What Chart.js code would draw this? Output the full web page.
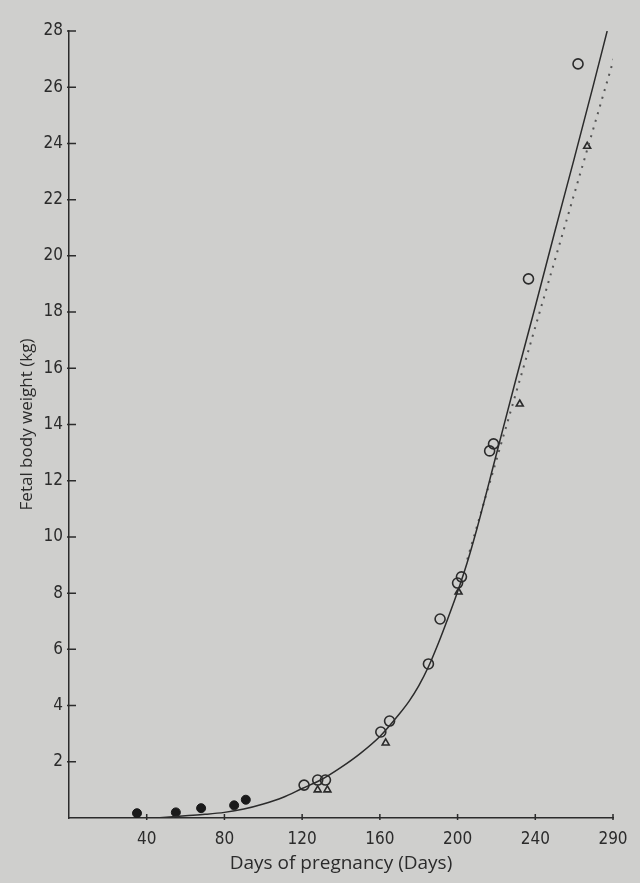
<!DOCTYPE html>
<html>
<head>
<meta charset="utf-8">
<script src="https://cdn.jsdelivr.net/npm/chart.js@4.4.1/dist/chart.umd.min.js"></script>
<style>
  html, body { margin: 0; padding: 0; background: #cfcfcd; }
  #wrap { width: 640px; height: 883px; }
</style>
</head>
<body>
<div id="wrap"><canvas id="chart" width="640" height="883"></canvas></div>
<script>
// Data
const earlyDays = [35, 55, 68, 85, 91];
const earlyWeights = [0.17, 0.2, 0.35, 0.45, 0.65];

const circleDays = [121, 128, 132, 160.5, 165, 185, 191, 200, 202, 216.5, 218.5, 236.5, 262];
const circleWeights = [1.17, 1.35, 1.35, 3.06, 3.45, 5.48, 7.08, 8.36, 8.58, 13.06, 13.31, 19.18, 26.83];

const triangleDays = [128, 133, 163, 200.5, 232, 266.7];
const triangleWeights = [1.0, 1.0, 2.67, 8.04, 14.73, 23.9];

const curveDays = [45, 60, 70, 80, 90, 100, 110, 120, 130, 140, 150, 160, 170, 175, 180, 185, 190, 195, 200, 205, 210, 220, 230, 240, 250, 260, 270, 277];
const curveWeights = [0, 0.08, 0.13, 0.2, 0.32, 0.5, 0.73, 1.05, 1.37, 1.8, 2.3, 2.9, 3.7, 4.15, 4.7, 5.38, 6.2, 7.1, 8.05, 9.1, 10.3, 12.95, 15.6, 18.2, 20.85, 23.45, 26.1, 28.0];

const dottedDays = [205, 281];
const dottedWeights = [9.2, 27.15];

const xTickValues = [40, 80, 120, 160, 200, 240, 280];
const xTickLabels = ['40', '80', '120', '160', '200', '240', '290'];
const yTickValues = [2, 4, 6, 8, 10, 12, 14, 16, 18, 20, 22, 24, 26, 28];

function pts(xs, ys) {
    return xs.map(function (x, i) { return { x: x, y: ys[i] }; });
}

const ink = '#2b2b2b';
const titleFont = "'Open Sans', sans-serif";
const tickFont = "'Liberation Sans Narrow', 'DejaVu Sans Condensed', sans-serif";

// paper background
const paper = {
    id: 'paper',
    beforeDraw: function (chart) {
        const ctx = chart.ctx;
        ctx.save();
        ctx.fillStyle = '#cfcfcd';
        ctx.fillRect(0, 0, chart.width, chart.height);
        ctx.restore();
    }
};

// small tick marks crossing the axes
const axisTicks = {
    id: 'axisTicks',
    afterDraw: function (chart) {
        const ctx = chart.ctx;
        const xs = chart.scales.x, ys = chart.scales.y;
        const x0 = xs.getPixelForValue(0), y0 = ys.getPixelForValue(0);
        ctx.save();
        ctx.strokeStyle = ink;
        ctx.lineWidth = 1.5;
        ctx.beginPath();
        yTickValues.forEach(function (v) {
            const py = ys.getPixelForValue(v);
            ctx.moveTo(x0 - 2, py);
            ctx.lineTo(x0 + 7, py);
        });
        xTickValues.forEach(function (v) {
            const px = xs.getPixelForValue(v);
            ctx.moveTo(px, y0 - 4);
            ctx.lineTo(px, y0 + 2);
        });
        ctx.stroke();
        ctx.restore();
    }
};

new Chart(document.getElementById('chart').getContext('2d'), {
    type: 'scatter',
    data: {
        datasets: [
            {
                data: pts(curveDays, curveWeights),
                showLine: true,
                borderColor: ink,
                borderWidth: 1.5,
                pointRadius: 0,
                cubicInterpolationMode: 'monotone'
            },
            {
                data: pts(dottedDays, dottedWeights),
                showLine: true,
                borderColor: '#555',
                borderWidth: 2,
                borderDash: [2, 6],
                pointRadius: 0
            },
            {
                data: pts(earlyDays, earlyWeights),
                pointStyle: 'circle',
                pointRadius: 4.5,
                backgroundColor: '#1a1a1a',
                borderColor: '#1a1a1a',
                borderWidth: 1
            },
            {
                data: pts(circleDays, circleWeights),
                pointStyle: 'circle',
                pointRadius: 5,
                backgroundColor: 'rgba(0,0,0,0)',
                borderColor: ink,
                borderWidth: 1.6
            },
            {
                data: pts(triangleDays, triangleWeights),
                pointStyle: 'triangle',
                pointRadius: 4,
                backgroundColor: 'rgba(0,0,0,0)',
                borderColor: ink,
                borderWidth: 1.6
            }
        ]
    },
    options: {
        responsive: false,
        animation: false,
        layout: { padding: { top: 31, right: 27, bottom: 8, left: 0 } },
        plugins: {
            legend: { display: false },
            tooltip: { enabled: false }
        },
        scales: {
            x: {
                type: 'linear',
                min: 0,
                max: 280,
                afterBuildTicks: function (scale) {
                    scale.ticks = xTickValues.map(function (v) { return { value: v }; });
                },
                afterFit: function (scale) { scale.height = 57; },
                grid: { display: false, drawTicks: false },
                border: { display: true, color: ink, width: 1.5 },
                ticks: {
                    color: ink,
                    padding: 11,
                    maxRotation: 0,
                    font: { family: tickFont, size: 17 },
                    callback: function (value) {
                        const i = xTickValues.indexOf(value);
                        return i >= 0 ? xTickLabels[i] : '';
                    }
                },
                title: {
                    display: true,
                    text: 'Days of pregnancy (Days)',
                    color: ink,
                    padding: { top: 2, bottom: 0 },
                    font: { family: titleFont, size: 19 }
                }
            },
            y: {
                min: 0,
                max: 28,
                afterBuildTicks: function (scale) {
                    scale.ticks = yTickValues.map(function (v) { return { value: v }; });
                },
                afterFit: function (scale) { scale.width = 69; },
                grid: { display: false, drawTicks: false },
                border: { display: true, color: ink, width: 1.5 },
                ticks: {
                    color: ink,
                    padding: 6,
                    font: { family: tickFont, size: 17 }
                },
                title: {
                    display: true,
                    text: 'Fetal body weight (kg)',
                    color: ink,
                    padding: { top: 17, bottom: 0 },
                    font: { family: titleFont, size: 17 }
                }
            }
        }
    },
    plugins: [paper, axisTicks]
});
</script>
</body>
</html>
